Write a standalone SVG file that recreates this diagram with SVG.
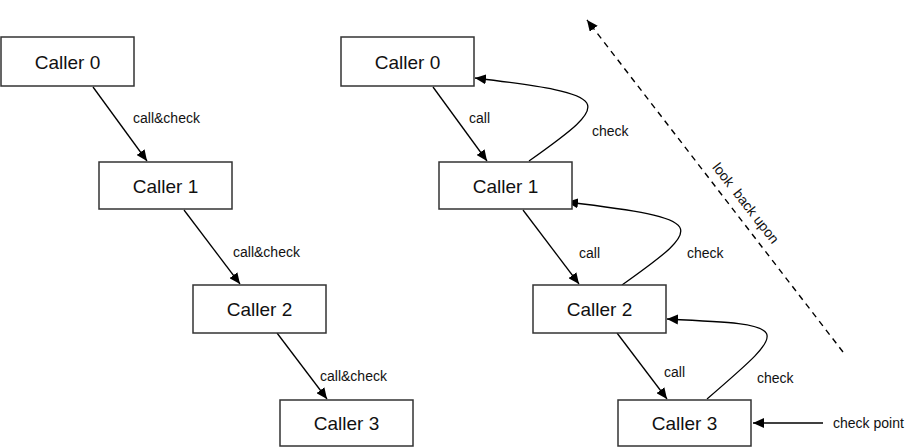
<svg xmlns="http://www.w3.org/2000/svg" width="913" height="448" viewBox="0 0 913 448">
<style>
.box{fill:#fff;stroke:#333;stroke-width:1.5}
.nt{font-family:"Liberation Sans",Arial,sans-serif;font-size:19px;fill:#111;text-anchor:middle}
.lb{font-family:"Liberation Sans",Arial,sans-serif;font-size:14px;fill:#111}
.ln{fill:none;stroke:#000;stroke-width:1.3}
.dash{stroke-dasharray:6,5;stroke-width:1.4}
</style>
<defs>
<marker id="ah" markerUnits="userSpaceOnUse" markerWidth="11" markerHeight="10" refX="11" refY="5" orient="auto">
<path d="M0,0 L11,5 L0,10 z" fill="#000"/>
</marker>
</defs>
<rect width="913" height="448" fill="#fff"/>
<g id="connectors">
<line class="ln" x1="93" y1="87" x2="147" y2="161" marker-end="url(#ah)"/>
<line class="ln" x1="184" y1="210" x2="240" y2="284" marker-end="url(#ah)"/>
<line class="ln" x1="277" y1="333" x2="327" y2="399" marker-end="url(#ah)"/>
<line class="ln" x1="433" y1="87" x2="487" y2="161" marker-end="url(#ah)"/>
<line class="ln" x1="523" y1="210" x2="579" y2="284" marker-end="url(#ah)"/>
<line class="ln" x1="617" y1="333" x2="667" y2="399" marker-end="url(#ah)"/>
<path class="ln" d="M529,161 C615,100 615,95 475,78" marker-end="url(#ah)"/>
<path class="ln" d="M622,285 C708,224 708,219 567,202" marker-end="url(#ah)"/>
<path class="ln" d="M707,399 C793,325 793,325 667,319" marker-end="url(#ah)"/>
<line class="ln" x1="823" y1="423" x2="753" y2="423" marker-end="url(#ah)"/>
<line class="ln dash" x1="843" y1="352" x2="587" y2="20" marker-end="url(#ah)"/>
<text class="lb" x="133" y="123">call&amp;check</text>
<text class="lb" x="233" y="257">call&amp;check</text>
<text class="lb" x="320" y="381">call&amp;check</text>
<text class="lb" x="469" y="123">call</text>
<text class="lb" x="579" y="258">call</text>
<text class="lb" x="664" y="377">call</text>
<text class="lb" x="592" y="136">check</text>
<text class="lb" x="687" y="258">check</text>
<text class="lb" x="757" y="383">check</text>
<text class="lb" x="833" y="428">check point</text>
<text class="lb" x="746" y="208" text-anchor="middle" xml:space="preserve" transform="rotate(52 746 203)">look  back upon</text>
</g>
<g id="l0"><rect class="box" x="1" y="37" width="133" height="49"/><text class="nt" x="67.5" y="68.5">Caller 0</text></g>
<g id="l1"><rect class="box" x="99" y="162" width="133" height="47"/><text class="nt" x="165.5" y="192.5">Caller 1</text></g>
<g id="l2"><rect class="box" x="193" y="285" width="133" height="48"/><text class="nt" x="259.5" y="316">Caller 2</text></g>
<g id="l3"><rect class="box" x="280" y="400" width="133" height="46"/><text class="nt" x="346.5" y="430">Caller 3</text></g>
<g id="r0"><rect class="box" x="341" y="37" width="133" height="49"/><text class="nt" x="407.5" y="68.5">Caller 0</text></g>
<g id="r1"><rect class="box" x="439" y="162" width="133" height="47"/><text class="nt" x="505.5" y="192.5">Caller 1</text></g>
<g id="r2"><rect class="box" x="533" y="285" width="133" height="48"/><text class="nt" x="599.5" y="316">Caller 2</text></g>
<g id="r3"><rect class="box" x="618" y="400" width="133" height="46"/><text class="nt" x="684.5" y="430">Caller 3</text></g>
</svg>
